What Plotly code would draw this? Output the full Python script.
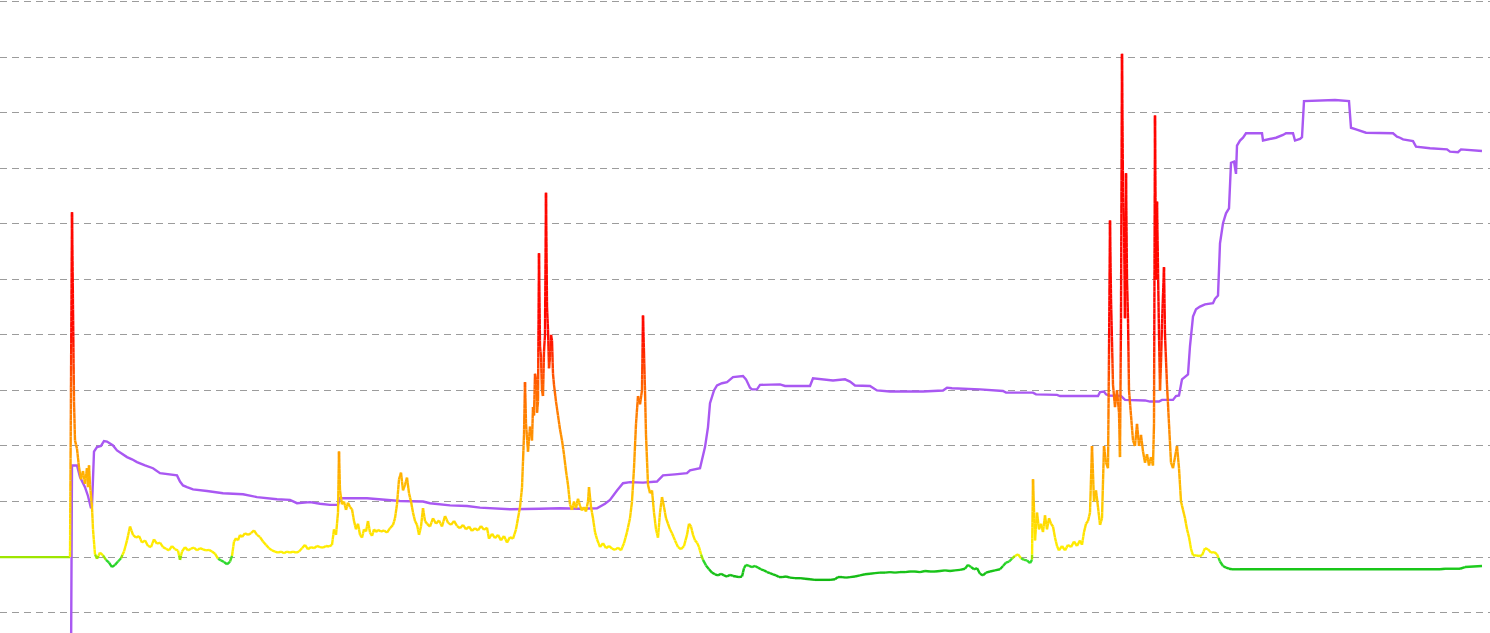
import math
import plotly.graph_objects as go

# ---- oscillator (gradient-coloured) series: time index and value ----
sig_day = [0, 70, 72, 74, 75, 77, 79, 81, 83, 85, 87, 88, 89, 90, 91, 92, 93, 95, 97, 100, 103, 106, 109, 112, 115,
           118, 121, 124, 127, 130, 133, 136, 139, 142, 145, 148, 151, 154, 157, 160, 163, 166, 169, 172, 175, 178,
           180, 182, 185, 188, 191, 194, 197, 200, 203, 206, 209, 212, 215, 218, 221, 224, 227, 230, 232, 234, 236,
           238, 240, 242, 245, 248, 251, 254, 257, 260, 263, 266, 269, 272, 275, 278, 281, 284, 287, 290, 293, 296,
           299, 302, 305, 308, 311, 314, 317, 320, 323, 326, 329, 332, 334, 336, 338, 339, 340, 342, 344, 346, 348,
           350, 352, 354, 356, 358, 360, 362, 364, 366, 368, 370, 372, 374, 376, 378, 381, 384, 387, 390, 393, 395,
           397, 399, 401, 403, 405, 407, 409, 411, 413, 415, 417, 419, 421, 423, 425, 427, 430, 433, 436, 439, 442,
           445, 448, 451, 454, 457, 460, 463, 466, 469, 472, 475, 478, 481, 484, 487, 489, 492, 495, 498, 501, 504,
           507, 510, 513, 516, 518, 520, 522, 524, 525, 526, 528, 530, 532, 533, 534, 535, 536, 537, 538, 539, 540,
           541, 542, 543, 544, 545, 546, 547, 548, 549, 550, 551, 552, 553, 554, 556, 558, 560, 562, 564, 566, 568,
           570, 572, 574, 576, 578, 580, 582, 584, 586, 588,
           589, 591, 593, 595, 597, 600, 603, 606, 609, 612, 615, 618, 621, 624, 627, 630, 632, 634, 636, 638, 640,
           642, 643, 645, 646, 648, 650, 652, 654, 656, 658, 660, 662, 664, 666, 668, 670, 672, 675, 678, 681, 684,
           687, 689, 691, 693, 695, 697, 699, 701, 703, 706, 709, 712, 715, 718, 721, 724, 727, 730, 733, 736, 739,
           742, 744, 746, 749, 752, 755, 758, 761, 764, 767, 770, 773, 776, 779, 782, 786, 790, 795, 800, 805, 810,
           815, 820, 825, 830, 835, 838, 842, 846, 850, 855, 860, 865, 870, 875, 880, 885, 890, 895, 900, 905, 910,
           915, 920, 925, 930, 935, 940, 945, 950, 955, 960, 965, 968, 971, 974, 977, 980, 983, 986, 990, 995, 1000,
           1003, 1006, 1009, 1012, 1015, 1018, 1021, 1024, 1027, 1030, 1032, 1033, 1035, 1037, 1039, 1041, 1043,
           1045, 1047, 1049, 1051, 1053, 1055, 1057, 1059, 1062, 1065, 1068, 1071, 1074, 1077, 1080, 1082, 1084,
           1086, 1088, 1090, 1092, 1094, 1096, 1098, 1100, 1102, 1104, 1106, 1108, 1109, 1110, 1111, 1113, 1115,
           1117, 1119, 1120, 1121, 1122, 1123, 1124, 1125, 1126, 1127, 1128, 1129, 1131, 1133, 1135, 1137, 1139,
           1141, 1143, 1145, 1147, 1149, 1151, 1153, 1154, 1155, 1156, 1157, 1159, 1160, 1161, 1162, 1164, 1165,
           1167, 1169, 1171, 1173, 1175, 1177, 1179, 1181, 1183, 1185, 1187, 1189, 1191, 1193, 1196, 1199, 1202,
           1205, 1208, 1211, 1214, 1217, 1220, 1223, 1226, 1229, 1232, 1240, 1300, 1360, 1400, 1440, 1445, 1460,
           1465, 1482]
sig_val = [0, 0, 62.1, 28, 21.0, 19.5, 16.2, 14.0, 15.5, 13.2, 16.0, 12.6, 16.5, 13.0, 11.0, 9.0, 5.0, 0.5, -0.3,
           0.8, 0.3, -0.5, -1.0, -1.8, -1.4, -0.8, -0.2, 1.0, 3.0, 5.5, 4.0, 3.5, 3.8, 2.6, 3.0, 2.0, 1.8, 3.2, 2.4,
           2.6, 1.8, 1.5, 1.2, 2.0, 1.4, 1.2, -0.5, 1.0, 1.8, 1.2, 1.5, 1.7, 1.2, 1.6, 1.4, 1.2, 1.3, 1.0, 0.6, -0.3,
           -0.6, -0.9, -1.3, -0.8, 0.2, 2.8, 3.4, 3.0, 4.0, 3.6, 4.3, 4.0, 4.3, 4.8, 4.0, 3.6, 2.8, 2.2, 1.6, 1.2,
           1.0, 0.8, 1.0, 0.7, 1.0, 0.8, 1.0, 0.8, 1.0, 1.6, 2.2, 1.4, 1.8, 1.6, 2.0, 1.8, 1.7, 2.0, 1.9, 2.2, 5.0,
           4.0, 8.0, 19.0, 12.0, 9.5, 10.0, 8.5, 9.8, 9.0, 8.6, 6.5, 5.0, 6.0, 4.0, 3.5, 5.0, 4.6, 6.5, 4.4, 3.8,
           5.0, 4.5, 4.9, 4.6, 4.8, 4.4, 5.2, 5.8, 7.0, 9.5, 14.0, 15.2, 12.0, 13.0, 14.3, 11.5, 10.0, 8.0, 6.5, 5.8,
           4.0, 5.5, 8.8, 6.5, 6.0, 5.5, 7.0, 6.0, 6.6, 5.5, 7.4, 6.2, 5.8, 6.5, 5.6, 5.2, 5.8, 5.0, 5.5, 4.7, 5.2,
           4.8, 5.6, 4.9, 5.3, 3.3, 4.2, 3.4, 4.0, 3.0, 3.8, 2.6, 3.6, 3.3, 5.0, 7.0, 9.0, 12.5, 22.0, 31.5, 24.0,
           19.0, 23.5, 21.0, 27.0, 25.5, 33.0, 32.0, 26.0, 28.0, 54.7, 38.0,
           36.0, 30.0, 29.0, 37.0, 40.0, 65.6, 45.0, 41.0, 34.0, 36.0, 40.0, 39.0, 33.0, 31.0, 28.0, 25.5, 23.0,
           21.0, 18.5, 15.5, 13.0,
           9.5, 8.5, 10.0, 8.8, 10.5, 9.2, 8.4, 9.0, 8.2, 10.0, 12.6, 9.0, 7.0, 4.5,
           3.2, 1.8, 2.5, 1.6, 2.0, 1.5, 1.3, 1.7, 1.2, 2.5, 4.5, 7.0, 10.0, 16.0, 24.0, 29.0, 27.5, 30.0, 43.5,
           30.0, 22.0, 13.0, 11.5, 12.0, 8.0, 5.0, 3.5, 8.0, 10.8, 9.0, 7.0, 6.0, 5.0, 4.3, 3.0, 1.8, 1.4, 2.0,
           4.0, 6.0, 5.5, 4.0, 3.0, 2.6, 1.8, 0.5, -0.5, -1.5, -2.2, -2.8, -3.1, -3.3, -3.0, -3.3, -3.5, -3.2,
           -3.4, -3.5, -3.6, -3.5, -2.0, -1.4, -1.6, -1.8, -1.6, -1.9, -2.2, -2.4, -2.7, -2.9, -3.1, -3.3, -3.6,
           -3.6, -3.5, -3.7, -3.8, -3.8, -3.9, -4.0, -4.1, -4.1, -4.1, -4.1, -4.0, -3.6, -3.6, -3.7, -3.6, -3.5,
           -3.3, -3.1, -3.0, -2.9, -2.8, -2.8, -2.7, -2.8, -2.7, -2.7, -2.6, -2.6, -2.7, -2.5, -2.6, -2.6, -2.5,
           -2.4, -2.5, -2.4, -2.3, -2.1, -1.4, -1.8, -2.2, -2.0, -3.0, -3.3, -2.8, -2.6, -2.4, -2.2, -1.6, -1.0,
           -0.8, -0.3, 0.2, 0.5, -0.2, -0.5, -0.6, -1.1, -0.5, 14.0, 3.0, 8.0, 5.0, 6.0, 4.5, 7.5, 5.0, 7.0, 6.0,
           5.5, 3.5, 2.0, 1.2, 2.0, 1.2, 2.2, 1.8, 2.8, 2.0, 3.0, 2.2, 4.5, 6.0, 6.5, 8.0, 20.0, 10.0, 12.0, 9.0,
           5.8, 7.0, 20.0, 17.0, 16.0, 36.5, 60.6, 46.5, 31.0, 27.0, 30.0, 26.0, 18.0, 43.0, 90.6, 65.6, 59.5,
           43.0, 69.1, 50.0, 43.0, 30.0, 25.5, 21.0, 20.0, 24.0, 20.0, 22.0, 19.0, 17.0, 18.5, 16.5, 18.0, 16.5,
           24.0, 79.5, 50.0, 64.0, 40.0, 30.0, 35.0, 42.0, 52.2, 40.0, 31.0, 24.0, 17.0, 16.0, 18.0, 20.0, 16.0,
           10.0, 8.5, 7.0, 5.0, 3.6, 1.5, 0.3, 0.3, 0.2, 0.3, 1.6, 1.4, 0.8, 0.9, 0.5, -0.8, -1.6, -1.9, -2.1,
           -2.2, -2.2, -2.2, -2.2, -2.2, -2.2, -2.1, -2.1, -1.8, -1.6]

# ---- smoothed (purple) series ----
avg_day = [71, 72, 77, 80, 85, 88, 91, 92, 94, 97, 101, 104, 107, 110, 113, 117, 122, 127, 132, 137, 145, 153, 160,
           170, 177, 180, 183, 187, 193, 207, 223, 243, 257, 277, 290, 297, 310, 320, 330, 338, 340, 367, 380, 400,
           423, 430, 450, 467, 480, 497, 510, 540, 560, 580, 597, 605, 610, 617, 623, 630, 643, 657, 663, 675, 687,
           690, 700, 705, 708, 710, 714, 717, 722, 727, 733, 743, 746, 750, 752, 757, 760, 780, 785, 810, 813, 833,
           845, 850, 855, 870, 877, 890, 923, 943, 947, 952, 980, 1003, 1006, 1033, 1036, 1057, 1060, 1098, 1100,
           1104, 1106, 1109, 1121, 1125, 1145, 1150, 1159, 1162, 1173, 1176, 1179, 1182, 1188, 1190, 1193, 1196,
           1200, 1205, 1213, 1215, 1218, 1220, 1223, 1226, 1229, 1231, 1234, 1236, 1237, 1240, 1243, 1246, 1262,
           1263, 1270, 1276, 1283, 1286, 1293, 1295, 1300, 1302, 1304, 1320, 1335, 1349, 1351, 1356, 1361, 1366,
           1393, 1397, 1400, 1403, 1413, 1416, 1430, 1447, 1450, 1458, 1461, 1470, 1482]
avg_val = [-20, 16.5, 16.5, 14.4, 12.6, 11.0, 8.8, 9.2, 19.0, 19.8, 20.0, 20.9, 20.8, 20.4, 20.1, 19.2, 18.6, 18.0,
           17.6, 17.1, 16.5, 16.0, 15.1, 14.9, 14.7, 13.6, 12.9, 12.6, 12.2, 11.9, 11.5, 11.3, 10.8, 10.4, 10.3, 9.7,
           9.9, 9.6, 9.4, 9.4, 10.6, 10.6, 10.4, 10.1, 10.0, 9.7, 9.3, 9.2, 8.9, 8.8, 8.6, 8.7, 8.8, 8.7, 8.8, 9.6,
           10.3, 12.0, 13.3, 13.5, 13.4, 13.6, 14.7, 14.9, 15.1, 15.6, 16.0, 19.8, 23.4, 27.7, 30.0, 30.9, 31.3,
           31.5, 32.4, 32.6, 32.0, 30.5, 30.2, 30.2, 31.0, 31.1, 30.8, 30.8, 32.2, 31.8, 32.0, 31.6, 30.9, 30.8,
           30.0, 29.8, 29.8, 30.0, 30.5, 30.4, 30.2, 29.9, 29.6, 29.6, 29.3, 29.2, 29.0, 29.0, 29.7, 29.8, 29.3,
           29.1, 29.0, 28.3, 28.2, 28.0, 28.0, 28.3, 28.3, 29.0, 29.1, 32.0, 32.9, 38.0, 43.3, 44.6, 45.1, 45.5,
           45.7, 46.5, 47.1, 56.5, 60.1, 61.9, 62.8, 71.0, 71.2, 69.0, 74.1, 75.0, 75.5, 76.3, 76.3, 75.0, 75.2,
           75.5, 76.0, 76.3, 76.3, 75.0, 75.3, 75.6, 82.1, 82.2, 82.3, 82.1, 77.3, 77.0, 76.7, 76.4, 76.3, 75.7,
           75.5, 75.2, 74.9, 73.9, 73.6, 73.4, 73.0, 72.9, 73.4, 73.3, 73.1]

# value -> colour stops for the oscillator line
stop_vals = [-5.0, -2.0, -0.6, -0.01, 0.0, 0.15, 1.0, 5.0, 10.0, 14.0, 20.0, 30.0, 35.0, 40.0, 100.0]
stop_cols = ["#10b010", "#1ac81a", "#33dd33", "#66e022", "#9ee600", "#f2f000", "#fff000", "#ffe000",
             "#ffc800", "#ffb400", "#ff9800", "#ff6a00", "#ff3a00", "#ff0a00", "#ff0000"]


def hex_rgb(h):
    h = h.lstrip("#")
    return tuple(int(h[i:i + 2], 16) for i in (0, 2, 4))


def color_for(v):
    if v <= stop_vals[0]:
        return stop_cols[0]
    for i in range(1, len(stop_vals)):
        if v <= stop_vals[i]:
            a, b = stop_vals[i - 1], stop_vals[i]
            t = (v - a) / (b - a) if b > a else 1.0
            c0, c1 = hex_rgb(stop_cols[i - 1]), hex_rgb(stop_cols[i])
            r, g, bb = (round(c0[k] + (c1[k] - c0[k]) * t) for k in range(3))
            return "#%02x%02x%02x" % (r, g, bb)
    return stop_cols[-1]


# group segments (split into small pieces along the value) by colour
groups = {}
for i in range(len(sig_day) - 1):
    x0, x1 = sig_day[i], sig_day[i + 1]
    v0, v1 = sig_val[i], sig_val[i + 1]
    n = max(1, int(math.ceil(abs(v1 - v0) / 1.0)))
    for k in range(n):
        ta, tb = k / n, (k + 1) / n
        xa, xb = x0 + (x1 - x0) * ta, x0 + (x1 - x0) * tb
        va, vb = v0 + (v1 - v0) * ta, v0 + (v1 - v0) * tb
        vm = (va + vb) / 2
        if abs(v1 - v0) < 1e-9 and v0 == 0:
            vm = 0.0
        c = color_for(round(vm * 4) / 4 if vm != 0 else 0.0)
        gx, gy = groups.setdefault(c, ([], []))
        gx += [xa, xb, None]
        gy += [va, vb, None]

fig = go.Figure()

fig.add_trace(go.Scatter(x=avg_day, y=avg_val, mode="lines",
                         line=dict(color="#a958f2", width=2.4), hoverinfo="skip", showlegend=False))

for c, (gx, gy) in groups.items():
    fig.add_trace(go.Scatter(x=gx, y=gy, mode="lines", line=dict(color=c, width=2.4),
                             connectgaps=False, hoverinfo="skip", showlegend=False))

fig.update_layout(
    width=1490, height=633,
    margin=dict(l=0, r=0, t=0, b=0),
    paper_bgcolor="white", plot_bgcolor="white",
    xaxis=dict(range=[0, 1490], visible=False, showgrid=False, zeroline=False),
    yaxis=dict(range=[-13.67, 100.3], tick0=0, dtick=10, showgrid=True, gridcolor="#9c9c9c",
               gridwidth=1, griddash="7px,5px", zeroline=False, showticklabels=False, showline=False,
               ticks=""),
)

fig.write_html("out.html", config={"displayModeBar": False},
               post_script="document.body.style.margin='0';document.body.style.overflow='hidden';")
